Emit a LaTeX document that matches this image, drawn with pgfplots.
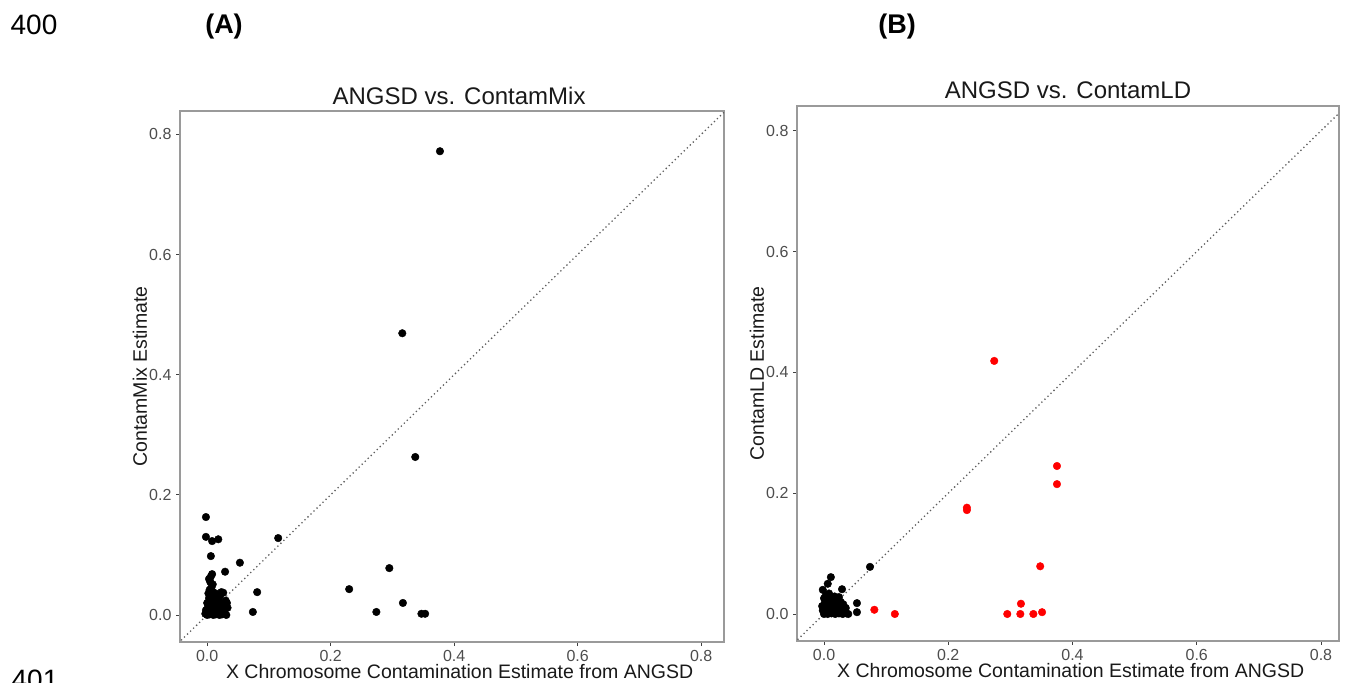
\documentclass[border=0pt]{standalone}
\usepackage{pgfplots}
\pgfplotsset{compat=1.18}
\usepackage{fontspec}
\setmainfont{Liberation Sans}
\definecolor{framegray}{HTML}{9A9A9A}
\definecolor{ticktext}{HTML}{4D4D4D}
\definecolor{diag}{HTML}{5E5E5E}

\pgfplotstableread{
x y
0.377 0.772
0.316 0.469
0.337 0.263
0.115 0.128
0.295 0.078
0.230 0.043
0.317 0.020
0.274 0.005
0.347 0.002
0.353 0.002
-0.002 0.163
-0.002 0.130
0.008 0.123
0.018 0.126
0.006 0.098
0.053 0.087
0.029 0.072
0.008 0.068
0.003 0.060
0.081 0.038
0.074 0.005
0.023 0.038
0.026 0.037
0.032 0.020
0.031 0.000
0.000 0.000
0.002 0.003
0.004 0.001
0.006 0.005
0.008 0.002
0.010 0.000
0.012 0.004
0.014 0.001
0.016 0.006
0.018 0.002
0.020 0.000
0.022 0.004
0.024 0.001
0.026 0.007
0.028 0.003
-0.002 0.008
0.001 0.012
0.003 0.016
0.005 0.010
0.007 0.020
0.009 0.014
0.011 0.024
0.013 0.018
0.015 0.011
0.017 0.022
0.019 0.015
0.021 0.009
0.023 0.019
0.025 0.013
0.003 0.028
0.006 0.033
0.008 0.027
0.010 0.038
0.012 0.031
0.004 0.042
0.007 0.046
0.009 0.051
0.005 0.055
0.002 0.036
0.014 0.028
0.016 0.035
0.018 0.026
0.020 0.030
0.027 0.016
0.029 0.010
0.033 0.012
0.030 0.024
0.000 0.020
-0.003 0.002
0.011 0.007
0.006 0.064
}\contammix

\pgfplotstableread{
x y
0.074 0.078
0.011 0.061
0.006 0.050
-0.002 0.040
0.029 0.041
0.053 0.018
0.053 0.003
0.024 0.028
0.027 0.020
0.000 0.000
0.003 0.002
0.006 0.000
0.009 0.003
0.012 0.001
0.015 0.004
0.018 0.000
0.021 0.003
0.024 0.001
0.027 0.002
0.030 0.000
0.033 0.003
0.036 0.001
0.039 0.000
-0.002 0.006
0.002 0.009
0.005 0.012
0.008 0.007
0.011 0.015
0.014 0.010
0.017 0.013
0.020 0.008
0.023 0.011
0.026 0.006
0.029 0.009
0.032 0.007
0.035 0.010
0.001 0.018
0.004 0.022
0.007 0.027
0.010 0.020
0.013 0.024
0.016 0.019
0.019 0.016
0.022 0.021
0.003 0.031
0.008 0.034
0.000 0.026
0.006 0.016
0.031 0.016
0.017 0.029
-0.003 0.013
}\contamldblack

\pgfplotstableread{
x y
0.274 0.419
0.375 0.245
0.375 0.215
0.230 0.176
0.230 0.172
0.348 0.079
0.317 0.017
0.295 0.000
0.316 0.000
0.337 0.000
0.351 0.003
0.081 0.007
0.114 0.000
}\contamldred

\pgfplotsset{
  panel/.style={
    scale only axis,
    anchor=south west,
    axis line style={framegray, line width=1.1pt},
    tick pos=left,
    tick align=outside,
    major tick length=4pt,
    tick style={black!75, line width=0.9pt},
    xtick={0,0.2,0.4,0.6,0.8},
    ytick={0,0.2,0.4,0.6,0.8},
    /pgf/number format/assume math mode=true,
    /pgf/number format/fixed,
    /pgf/number format/fixed zerofill,
    /pgf/number format/precision=1,
    ticklabel style={font=\fontsize{16}{16}\selectfont, text=ticktext},
    xticklabel style={yshift=-1pt},
    yticklabel style={xshift=-1pt},
    label style={font=\fontsize{19.5}{19.5}\selectfont, text=black!90},
    title style={font=\fontsize{24}{24}\selectfont, text=black!90, anchor=center, inner sep=0pt},
    xlabel={X Chromosome Contamination Estimate from ANGSD},
    clip=true,
  },
  dots/.style={only marks, mark=*, mark size=3.8pt, mark options={draw=#1, fill=#1}},
  diagline/.style={diag, line width=1.8pt, line cap=round, dash pattern=on 0pt off 4.2pt},
}

\begin{document}
\begin{tikzpicture}[x=1pt,y=1pt]
\useasboundingbox (0pt,0pt) rectangle (1345pt,683pt);

\node[font=\fontsize{28}{28}\selectfont, anchor=center] at (34pt,658pt) {400};
\node[font=\fontsize{28}{28}\selectfont, anchor=base] at (35pt,-7pt) {401};
\node[font=\fontsize{27}{27}\selectfont\bfseries, anchor=center] at (224pt,656pt) {(A)};
\node[font=\fontsize{27}{27}\selectfont\bfseries, anchor=center] at (897pt,656pt) {(B)};

\begin{axis}[panel,
  at={(180pt,41pt)}, width=544pt, height=531pt,
  xmin=-0.044, xmax=0.837, ymin=-0.045, ymax=0.839,
  title={ANGSD vs. ContamMix},
  title style={at={(axis description cs:0.513,1.017)}},
  ylabel={ContamMix Estimate},
  xlabel style={at={(axis description cs:0.514,-0.0565)}, anchor=center, inner sep=0pt},
  ylabel style={at={(axis description cs:-0.0735,0.5)}, anchor=center, inner sep=0pt},
]
\addplot[diagline] coordinates {(-0.1,-0.1) (0.9,0.9)};
\addplot[dots=black] table[x=x,y=y] {\contammix};
\end{axis}

\begin{axis}[panel,
  at={(797pt,42pt)}, width=542pt, height=535pt,
  xmin=-0.0435, xmax=0.829, ymin=-0.0447, ymax=0.841,
  title={ANGSD vs. ContamLD},
  title style={at={(axis description cs:0.5,1.019)}},
  ylabel={ContamLD Estimate},
  xlabel style={at={(axis description cs:0.505,-0.0555)}, anchor=center, inner sep=0pt},
  ylabel style={at={(axis description cs:-0.0738,0.5)}, anchor=center, inner sep=0pt},
]
\addplot[diagline] coordinates {(-0.1,-0.1) (0.9,0.9)};
\addplot[dots=black] table[x=x,y=y] {\contamldblack};
\addplot[dots=red] table[x=x,y=y] {\contamldred};
\end{axis}
\end{tikzpicture}
\end{document}
